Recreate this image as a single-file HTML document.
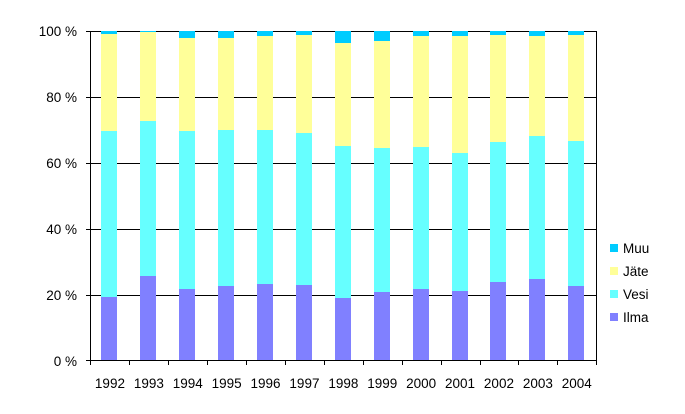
<!DOCTYPE html>
<html><head><meta charset="utf-8"><style>
html,body{margin:0;padding:0;background:#fff;}
svg{display:block;font-family:"Liberation Sans",Arial,sans-serif;font-size:13.5px;}
</style></head><body>
<svg width="685" height="414" viewBox="0 0 685 414" xmlns="http://www.w3.org/2000/svg">
<g stroke="#000" stroke-width="1" fill="none" shape-rendering="crispEdges">
<line x1="86" y1="31.5" x2="597" y2="31.5"/>
<line x1="86" y1="97.5" x2="597" y2="97.5"/>
<line x1="86" y1="163.5" x2="597" y2="163.5"/>
<line x1="86" y1="229.5" x2="597" y2="229.5"/>
<line x1="86" y1="295.5" x2="597" y2="295.5"/>
<line x1="596.5" y1="31" x2="596.5" y2="360"/>
</g>
<g id="bars" shape-rendering="crispEdges"></g>
<g stroke="#000" stroke-width="1" shape-rendering="crispEdges">
<line x1="90.5" y1="31" x2="90.5" y2="361"/>
<line x1="86" y1="360.5" x2="597" y2="360.5"/>
</g>
<g id="ticks" stroke="#000" shape-rendering="crispEdges"></g>
<g text-anchor="end">
<text x="77" y="36">100 %</text>
<text x="77" y="102">80 %</text>
<text x="77" y="168">60 %</text>
<text x="77" y="234">40 %</text>
<text x="77" y="300">20 %</text>
<text x="77" y="366">0 %</text>
</g>
<g id="xl" text-anchor="middle"></g>
<g shape-rendering="crispEdges">
<rect x="610" y="244" width="8" height="8" fill="#00CCFF"/>
<rect x="610" y="267" width="8" height="8" fill="#FFFF99"/>
<rect x="610" y="290" width="8" height="8" fill="#66FFFF"/>
<rect x="610" y="313" width="8" height="8" fill="#8080FF"/>
</g>
<g>
<text x="623" y="253">Muu</text>
<text x="623" y="276">Jäte</text>
<text x="623" y="299">Vesi</text>
<text x="623" y="322">Ilma</text>
</g>
<script>
var ns="http://www.w3.org/2000/svg";
var d=[[34,131,297],[32,121,276],[38,131,289],[38,130,286],[36,130,284],[35,133,285],[43,146,298],[41,148,292],[36,147,289],[36,153,291],[35,142,282],[36,136,279],[35,141,286]];
var b=document.getElementById("bars"),t=document.getElementById("ticks"),xl=document.getElementById("xl");
function r(x,y,h,c){var e=document.createElementNS(ns,"rect");e.setAttribute("x",x);e.setAttribute("y",y);e.setAttribute("width",16);e.setAttribute("height",h);e.setAttribute("fill",c);b.appendChild(e);}
for(var i=0;i<13;i++){var cx=90.5+38.9*(i+0.5),x=Math.round(cx-8.5);var v=d[i];
r(x,31,v[0]-31,"#00CCFF");r(x,v[0],v[1]-v[0],"#FFFF99");r(x,v[1],v[2]-v[1],"#66FFFF");r(x,v[2],360-v[2],"#8080FF");
var tx=document.createElementNS(ns,"text");tx.setAttribute("x",cx);tx.setAttribute("y",388);tx.textContent=1992+i;xl.appendChild(tx);}
for(var i=0;i<=13;i++){var l=document.createElementNS(ns,"line");var x=Math.round(90.5+38.9*i)+0.5;if(i==0)x=90.5;l.setAttribute("x1",x);l.setAttribute("x2",x);l.setAttribute("y1",360);l.setAttribute("y2",365);t.appendChild(l);}
</script>
</svg>
</body></html>
